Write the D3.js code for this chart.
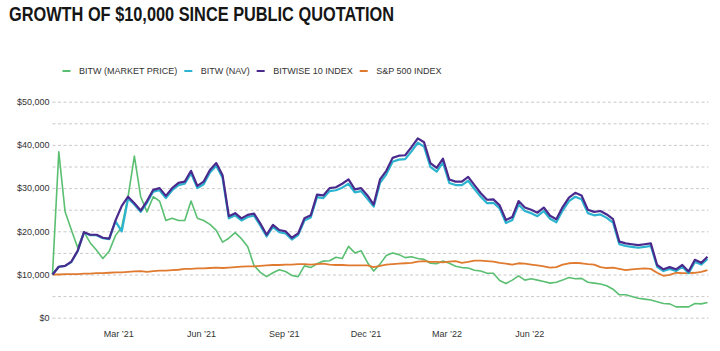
<!DOCTYPE html>
<html>
<head>
<meta charset="utf-8">
<script src="https://cdn.jsdelivr.net/npm/d3@7"></script>
<style>
  body { margin: 0; background: #fff; }
  text { font-family: "Liberation Sans", Arial, sans-serif; }
</style>
</head>
<body>
<div id="chart"></div>
<script>
// data (weekly closes, growth of $10,000)
var startDate = "2020-12-18";

var seriesNames = ["BITW (MARKET PRICE)", "BITW (NAV)", "BITWISE 10 INDEX", "S&P 500 INDEX"];

var marketPrice = [10000,38400,24500,20300,16200,19800,17300,15600,13700,15400,
  19000,21000,28000,37400,28000,24500,28000,27000,22500,23000,
  22500,22500,27000,23000,22500,21600,20200,17500,18400,19700,
  18300,16400,12100,10500,9500,10400,11100,10700,9800,9500,
  12000,11600,12500,13100,13200,14000,13700,16500,15000,15500,
  12800,10800,12400,14400,15000,14600,13900,14100,13700,13500,
  12600,12500,13100,12600,11900,11600,11500,11000,10800,10300,
  10300,8600,7900,8700,9700,8700,9000,8700,8400,8000,
  8200,8700,9300,9000,9100,8200,8000,7800,7400,6600,
  5300,5300,4900,4500,4300,4100,3700,3300,3200,2500,
  2500,2500,3300,3200,3500];

var nav = [10000,11800,12000,12900,15400,19700,19100,19100,18400,18200,
  22300,20000,27600,26200,24500,26600,29200,29500,27700,29500,
  30700,31000,33400,30000,30900,33600,35200,32400,23000,23700,
  22500,23300,23600,21300,18800,21000,19800,19500,18100,19100,
  22500,23200,27900,27700,29300,29500,30100,31000,29000,29300,
  27500,25700,31200,33200,36100,36600,36700,38500,40500,39600,
  34900,33800,35900,31200,30700,30700,31700,29800,28000,26500,
  26600,25300,21900,22600,26200,24700,24200,23500,24700,22900,
  22100,24800,27000,28000,27400,24200,23700,23900,23100,22000,
  17000,16600,16400,16200,16400,16600,11800,10800,11300,10800,
  11800,10300,12900,12300,13600];

var bitwiseIndex = [10000,11800,12000,13000,15500,19800,19200,19200,18500,18300,
  22500,25900,28000,26500,24800,27000,29600,30000,28200,30000,
  31200,31500,34000,30500,31500,34200,35800,33000,23500,24200,
  23000,23800,24100,21800,19200,21500,20300,20000,18500,19500,
  23000,23700,28500,28300,30000,30200,31000,32000,29700,30000,
  28300,26200,32000,34000,37000,37500,37600,39500,41500,40600,
  35800,34700,36800,32000,31500,31500,32600,30700,28800,27300,
  27400,26000,22600,23300,27000,25500,25000,24300,25500,23600,
  22800,25600,27800,28900,28300,25000,24500,24700,23900,22800,
  17600,17200,17000,16800,17000,17200,12200,11200,11700,11200,
  12200,10700,13400,12700,14100];

var sp500 = [10000,10000,10100,10100,10100,10200,10200,10300,10300,10400,
  10500,10500,10600,10700,10800,10600,10800,10900,10900,11000,
  11100,11300,11300,11400,11400,11500,11600,11500,11600,11700,
  11800,11900,11900,12000,12100,12200,12200,12300,12300,12400,
  12400,12300,12400,12500,12300,12200,12200,12100,12100,12100,
  12100,11700,12000,12300,12400,12500,12600,12700,13000,13100,
  12900,12900,12800,13000,13100,12700,12900,13200,13200,13100,
  13000,12700,12500,12300,12600,12500,12300,12100,11900,11600,
  11700,12300,12600,12700,12600,12400,12300,11700,11500,11600,
  11300,11000,11200,11300,11400,11300,10400,9700,9900,10400,
  10300,10300,10400,10600,11000];

var xTickDates = ["2021-03-01", "2021-06-01", "2021-09-01", "2021-12-01", "2022-03-01", "2022-06-01"];
var xTickLabels = ["Mar \u201921", "Jun \u201921", "Sep \u201921", "Dec \u201921", "Mar \u201922", "Jun \u201922"];
var yTicks = [0, 10000, 20000, 30000, 40000, 50000];
var yGrid = [0, 5000, 10000, 15000, 20000, 25000, 30000, 35000, 40000, 45000, 50000];

//**************************************************************

var W = 720, H = 351;
var plot = {left: 52.5, right: 707.5, top: 101.7, bottom: 317.7};
var colors = ["#5bbf72", "#2bb3cf", "#4a2a8c", "#e07a2e"];

var parse = d3.timeParse("%Y-%m-%d");
var start = parse(startDate);
var dates = marketPrice.map((d, i) => d3.timeDay.offset(start, 7 * i));

var svg = d3.select("#chart")
  .append("svg")
  .attr("width", W)
  .attr("height", H);

// title
svg.append("text")
  .attr("x", 9)
  .attr("y", 20.7)
  .attr("textLength", 385)
  .attr("lengthAdjust", "spacingAndGlyphs")
  .style("font-size", "20.5px")
  .style("font-weight", "bold")
  .style("fill", "#161616")
  .text("GROWTH OF $10,000 SINCE PUBLIC QUOTATION");

// scales
var x = d3.scaleTime()
  .domain(d3.extent(dates))
  .range([plot.left, plot.right]);

var y = d3.scaleLinear()
  .domain([0, 50000])
  .range([plot.bottom, plot.top]);

// dashed grid
svg.append("g")
  .attr("transform", "translate(" + plot.left + ",0)")
  .call(d3.axisLeft(y).tickValues(yGrid).tickSize(-(plot.right - plot.left + 1)).tickFormat(""))
  .call(g => g.select(".domain").remove())
  .call(g => g.selectAll("line")
    .attr("stroke", "#c9c9c9")
    .attr("stroke-width", 1)
    .attr("stroke-dasharray", "3,2.5"));

// y labels
svg.append("g")
  .attr("transform", "translate(" + (plot.left - 3) + ",0)")
  .call(d3.axisLeft(y).tickValues(yTicks).tickSize(0).tickPadding(0).tickFormat(d3.format("$,")))
  .call(g => g.select(".domain").remove())
  .call(g => g.selectAll("text")
    .style("font-family", "'Liberation Sans', Arial, sans-serif")
    .style("font-size", "9px")
    .attr("fill", "#333"));

// x labels
svg.append("g")
  .attr("transform", "translate(0," + (plot.bottom + 13) + ")")
  .call(d3.axisBottom(x).tickValues(xTickDates.map(parse)).tickSize(0).tickPadding(0)
    .tickFormat((d, i) => xTickLabels[i]))
  .call(g => g.select(".domain").remove())
  .call(g => g.selectAll("text")
    .style("font-family", "'Liberation Sans', Arial, sans-serif")
    .style("font-size", "9px")
    .attr("fill", "#333"));

// lines
var allSeries = [marketPrice, nav, bitwiseIndex, sp500];
var widths = [1.6, 2.2, 2.2, 1.8];
var drawOrder = [0, 3, 1, 2];

var line = d3.line()
  .x((d, i) => x(dates[i]))
  .y(d => y(d));

drawOrder.forEach(k => {
  svg.append("path")
    .datum(allSeries[k])
    .attr("fill", "none")
    .attr("stroke", colors[k])
    .attr("stroke-width", widths[k])
    .attr("stroke-linejoin", "round")
    .attr("d", line);
});

// legend
var legend = svg.append("g").attr("transform", "translate(62.5,71)");
var lx = 0;
seriesNames.forEach((name, k) => {
  var item = legend.append("g").attr("transform", "translate(" + lx + ",0)");
  item.append("line")
    .attr("x1", 0).attr("x2", 8)
    .attr("y1", 0).attr("y2", 0)
    .attr("stroke", colors[k])
    .attr("stroke-width", 2);
  var t = item.append("text")
    .attr("x", 16.5)
    .attr("y", 3.2)
    .style("font-size", "9px")
    .style("fill", "#333")
    .text(name);
  lx += 16.5 + t.node().getComputedTextLength() + 7;
});
</script>
</body>
</html>
